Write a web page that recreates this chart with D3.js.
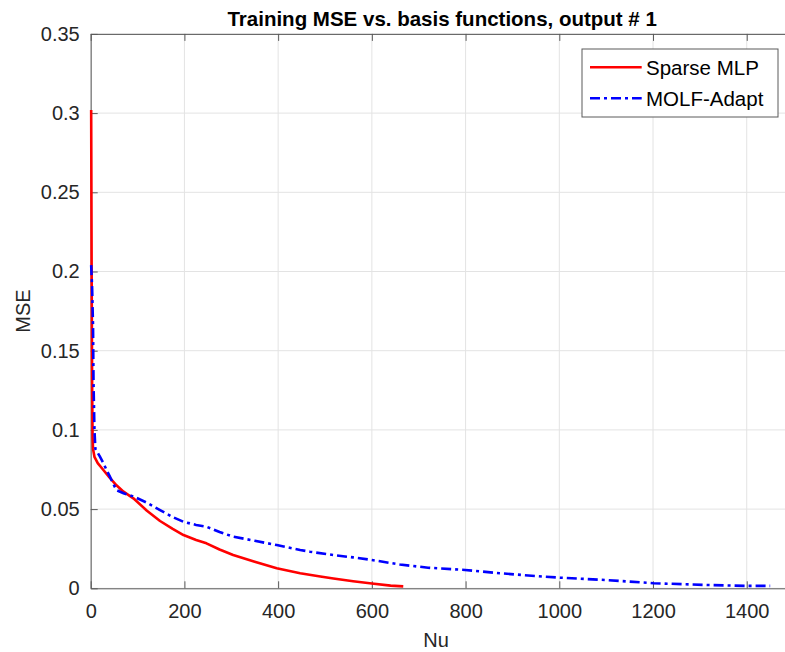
<!DOCTYPE html>
<html>
<head>
<meta charset="utf-8">
<script src="https://cdn.jsdelivr.net/npm/d3@7"></script>
<style>
  html, body { margin: 0; padding: 0; background: #fff; }
  svg { display: block; font-family: "Liberation Sans", Arial, Helvetica, sans-serif; }
</style>
</head>
<body>
<svg id="chart" width="785" height="652"></svg>
<script>
// ---- data ----
const title = "Training MSE vs. basis functions, output # 1";
const xLabel = "Nu";
const yLabel = "MSE";
const seriesNames = ["Sparse MLP", "MOLF-Adapt"];
const xTicks = [0, 200, 400, 600, 800, 1000, 1200, 1400];
const yTicks = [0, 0.05, 0.1, 0.15, 0.2, 0.25, 0.3, 0.35];
const yTickLabels = ["0", "0.05", "0.1", "0.15", "0.2", "0.25", "0.3", "0.35"];

const sparseNu  = [1, 2, 3, 4, 5, 8, 15, 27, 40, 55, 70, 91, 120, 148, 175, 198, 225, 247, 275, 304, 350, 397, 447, 490, 518, 560, 600, 640, 667];
const sparseMSE = [0.302, 0.2, 0.13, 0.095, 0.088, 0.083, 0.079, 0.0747, 0.07, 0.065, 0.061, 0.0568, 0.049, 0.0425, 0.0375, 0.0336, 0.0305, 0.0284, 0.0245, 0.021, 0.0168, 0.0126, 0.0095, 0.0075, 0.0062, 0.0045, 0.003, 0.0017, 0.0012];

const molfNu  = [1, 3, 5, 6, 8, 10, 20, 27, 35, 41, 48, 55, 70, 91, 120, 148, 175, 198, 225, 247, 275, 304, 350, 397, 447, 468, 518, 560, 600, 660, 720, 799, 873, 970, 1002, 1101, 1201, 1315, 1400, 1450];
const molfMSE = [0.204, 0.19, 0.165, 0.13, 0.10, 0.088, 0.083, 0.079, 0.074, 0.0705, 0.066, 0.062, 0.06, 0.058, 0.054, 0.0494, 0.045, 0.042, 0.040, 0.0389, 0.0355, 0.0326, 0.030, 0.0273, 0.0242, 0.0231, 0.021, 0.0195, 0.0179, 0.015, 0.013, 0.0116, 0.0095, 0.0073, 0.0067, 0.0052, 0.0032, 0.0021, 0.0015, 0.0015];

// ---- layout ----
const svg = d3.select("#chart");
const L = 90.7, R = 793.6, T = 33.9, B = 588.3;
const x = d3.scaleLinear().domain([0, 1500]).range([L, R]);
const y = d3.scaleLinear().domain([0, 0.35]).range([B, T]);
const tickLen = 7;
const axisColor = "#5a5a5a";
const textColor = "#262626";

// grid
const grid = svg.append("g");
grid.selectAll("line.gx").data(xTicks).enter().append("line")
  .attr("x1", d => x(d)).attr("x2", d => x(d)).attr("y1", T).attr("y2", B)
  .attr("stroke", "#e3e3e3").attr("stroke-width", 1);
grid.selectAll("line.gy").data(yTicks).enter().append("line")
  .attr("x1", L).attr("x2", R).attr("y1", d => y(d)).attr("y2", d => y(d))
  .attr("stroke", "#e3e3e3").attr("stroke-width", 1);

// axes via d3
const xAxis = svg.append("g").attr("transform", `translate(0,${B})`)
  .call(d3.axisBottom(x).tickValues(xTicks).tickSizeInner(-tickLen).tickSizeOuter(0).tickPadding(16).tickFormat(d3.format("d")));
const xAxisTop = svg.append("g").attr("transform", `translate(0,${T})`)
  .call(d3.axisTop(x).tickValues(xTicks).tickSizeInner(-tickLen).tickSizeOuter(0).tickFormat(""));
const yAxis = svg.append("g").attr("transform", `translate(${L},0)`)
  .call(d3.axisLeft(y).tickValues(yTicks).tickSizeInner(-tickLen).tickSizeOuter(0).tickPadding(11).tickFormat((d, i) => yTickLabels[i]));
const yAxisRight = svg.append("g").attr("transform", `translate(${R},0)`)
  .call(d3.axisRight(y).tickValues(yTicks).tickSizeInner(-tickLen).tickSizeOuter(0).tickFormat(""));

[xAxis, xAxisTop, yAxis, yAxisRight].forEach(g => {
  g.select(".domain").attr("stroke", axisColor).attr("stroke-width", 1);
  g.selectAll(".tick line").attr("stroke", axisColor).attr("stroke-width", 1);
  g.selectAll(".tick text").attr("fill", textColor)
    .style("font-size", "20px").style("font-family", "'Liberation Sans', Arial, sans-serif");
});
xAxis.selectAll(".tick text").attr("dy", "0.71em").attr("y", 16);

// lines
const line = d3.line().x(d => x(d[0])).y(d => y(d[1]));
const sparseData = sparseNu.map((n, i) => [n, sparseMSE[i]]);
const molfData = molfNu.map((n, i) => [n, molfMSE[i]]);

svg.append("path").datum(sparseData).attr("d", line)
  .attr("fill", "none").attr("stroke", "#ff0000").attr("stroke-width", 2.6)
  .attr("stroke-linejoin", "round");
svg.append("path").datum(molfData).attr("d", line)
  .attr("fill", "none").attr("stroke", "#0000ff").attr("stroke-width", 2.6)
  .attr("stroke-dasharray", "10,4,3,4");

// title
svg.append("text").attr("x", (L + R) / 2).attr("y", 26).attr("text-anchor", "middle")
  .style("font-size", "20.5px").style("font-weight", "bold").attr("fill", "#000").text(title);

// axis labels
svg.append("text").attr("x", (L + R) / 2 - 6).attr("y", 647).attr("text-anchor", "middle")
  .style("font-size", "20px").attr("fill", textColor).text(xLabel);
svg.append("text").attr("transform", `translate(30,${(T + B) / 2}) rotate(-90)`)
  .attr("text-anchor", "middle").style("font-size", "20px").attr("fill", textColor).text(yLabel);

// legend
const lg = svg.append("g");
lg.append("rect").attr("x", 582).attr("y", 49).attr("width", 196).attr("height", 68)
  .attr("fill", "#fff").attr("stroke", "#5a5a5a").attr("stroke-width", 1);
const legendColors = ["#ff0000", "#0000ff"];
const legendDash = [null, "10,4,3,4"];
const legendY = [67.3, 98.3];
seriesNames.forEach((name, i) => {
  lg.append("line").attr("x1", 590).attr("x2", 641.7).attr("y1", legendY[i]).attr("y2", legendY[i])
    .attr("stroke", legendColors[i]).attr("stroke-width", 2.6)
    .attr("stroke-dasharray", legendDash[i]);
  lg.append("text").attr("x", 646).attr("y", legendY[i] + 7.5)
    .style("font-size", "20.5px").attr("fill", "#000").text(name);
});
</script>
</body>
</html>
